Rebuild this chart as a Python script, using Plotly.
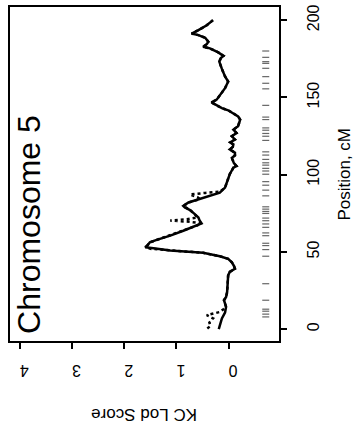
import plotly.graph_objects as go

# Solid curve (position cM, KC LOD score)
solid_pos = [0, 3, 6.9, 10.7, 14.4, 18.7, 20.8, 24.0, 30, 34.8, 37, 39.1, 41, 43.3, 45.5,
             47.2, 49.4, 50.9, 52.4, 53.0, 54.5, 56.2, 57.8, 60.5, 63.7, 67.0, 68.5, 70.5,
             72.3, 74.5, 77.1, 78.8, 79.8, 82.0, 84.2, 86.3, 88.4, 91.6, 94.9, 100.3, 104.5,
             105.6, 107.5, 108.8, 110.9, 112.5, 114.2, 116.4, 118, 119.6, 121, 122.8, 124.9,
             127.0, 129.2, 131.4, 135.7, 137.8, 139.9, 141.7, 143.1, 145.3, 146.8, 148.6,
             152.8, 156.0, 160.3, 163.6, 168.5, 173.2, 175.5, 176.9, 179.2, 181.8, 182.9,
             184.5, 186.1, 188.7, 190.4, 191.4, 193.6, 196.8, 200.1]
solid_lod = [0.19, 0.16, 0.13, 0.07, 0.05, 0.09, 0.05, 0.03, 0.02, 0.01, -0.02, -0.12, -0.10,
             -0.06, 0.01, 0.17, 0.49, 1.12, 1.44, 1.60, 1.55, 1.51, 1.38, 1.12, 0.87, 0.61,
             0.52, 0.56, 0.58, 0.65, 0.74, 0.84, 0.87, 0.77, 0.55, 0.36, 0.17, 0.07, 0.04,
             -0.02, -0.09, -0.15, -0.10, -0.09, -0.06, -0.12, -0.12, -0.02, -0.08, -0.09,
             -0.03, -0.12, -0.06, -0.15, -0.09, -0.18, -0.22, -0.18, -0.09, 0.01, 0.13, 0.26,
             0.33, 0.23, 0.13, 0.07, 0.01, 0.07, 0.13, 0.18, 0.15, 0.10, 0.20, 0.36, 0.49,
             0.42, 0.39, 0.45, 0.58, 0.71, 0.58, 0.42, 0.30]

# Dotted curve
dot_pos = [0.4, 2, 4.3, 7, 9.0, 10.1, 11.1, 12.9, 14.4, 18.7, 20.8, 24.0, 30, 34.8, 37, 39.1,
           41, 43.3, 45.5, 47.2, 49.4, 50.9, 52.0, 53.0, 54.5, 56.2, 57.8, 60.5, 63.7, 67.0,
           68.5, 69.5, 70.3, 71.2, 72.3, 74.5, 77.1, 78.8, 79.8, 82.0, 84.2, 85.5, 87.2, 88.2,
           89.0, 91.6, 94.9, 100.3, 104.5, 105.6, 107.5, 108.8, 110.9, 112.5, 114.2, 116.4,
           118, 119.6, 121, 122.8, 124.9, 127.0, 129.2, 131.4, 135.7, 137.8, 139.9, 141.7,
           143.1, 145.3, 146.8, 148.6, 152.8, 156.0, 160.3, 163.6, 168.5, 173.2, 175.5, 176.9,
           179.2, 181.8, 182.9, 184.5, 186.1, 188.7, 190.4, 191.4, 193.6, 196.8, 200.1]
dot_lod = [0.41, 0.35, 0.37, 0.30, 0.42, 0.29, 0.17, 0.10, 0.05, 0.09, 0.05, 0.03, 0.02, 0.01,
           -0.02, -0.12, -0.10, -0.06, 0.01, 0.17, 0.49, 1.12, 1.50, 1.57, 1.55, 1.51, 1.38,
           1.12, 0.87, 0.61, 0.52, 0.75, 1.12, 0.80, 0.60, 0.65, 0.74, 0.84, 0.87, 0.77, 0.55,
           0.60, 0.74, 0.45, 0.17, 0.07, 0.04, -0.02, -0.09, -0.15, -0.10, -0.09, -0.06, -0.12,
           -0.12, -0.02, -0.08, -0.09, -0.03, -0.12, -0.06, -0.15, -0.09, -0.18, -0.22, -0.18,
           -0.09, 0.01, 0.13, 0.26, 0.33, 0.23, 0.13, 0.07, 0.01, 0.07, 0.13, 0.18, 0.15, 0.10,
           0.20, 0.36, 0.49, 0.42, 0.39, 0.45, 0.58, 0.71, 0.58, 0.42, 0.30]

# Marker positions (rug), cM
marker_pos = [7.9, 9.7, 11.6, 12.9, 18.7, 29.4, 47.2, 51.5, 54.1, 55.6, 60.5, 62.3, 65.9, 68.1,
              70.2, 71.9, 74.9, 76.2, 77.7, 79.2, 86.3, 90.0, 93.2, 95.5, 100.3, 102.4, 104.1,
              106.2, 107.7, 109.9, 112.7, 114.8, 122.2, 124.9, 126.7, 128.8, 130.3, 135.7,
              137.3, 144.9, 155.6, 159.2, 163.5, 168.9, 172.1, 173.2, 176.0, 180.1]
rug_lod = -0.71

lod_ticks = [0, 1, 2, 3, 4]
pos_ticks = [0, 50, 100, 150, 200]

FONT = "Liberation Sans, Arial, sans-serif"

fig = go.Figure()
fig.add_trace(go.Scatter(
    x=[rug_lod] * len(marker_pos), y=marker_pos, mode="markers",
    marker=dict(symbol="line-ew", size=5, line=dict(width=1.2, color="#666666")),
    hoverinfo="skip", showlegend=False))
fig.add_trace(go.Scatter(x=dot_lod, y=dot_pos, mode="lines",
                         line=dict(color="black", width=2.5, dash="dot"), showlegend=False))
fig.add_trace(go.Scatter(x=solid_lod, y=solid_pos, mode="lines",
                         line=dict(color="black", width=2.5), showlegend=False))

fig.update_layout(
    width=353, height=430,
    margin=dict(l=10, r=74, t=5, b=89),
    paper_bgcolor="white", plot_bgcolor="white",
    font=dict(family=FONT, color="black", size=16),
    xaxis=dict(range=[4.19, -0.964], tickvals=lod_ticks, ticktext=[str(v) for v in lod_ticks],
               tickangle=180, ticks="outside", ticklen=6, tickwidth=1.5, tickcolor="black",
               ticklabelstandoff=13,
               showline=True, linecolor="black", linewidth=1.5, mirror=True,
               showgrid=False, zeroline=False, tickfont=dict(size=16)),
    yaxis=dict(range=[-7.7, 208.6], side="right", tickvals=pos_ticks,
               ticktext=[str(v) for v in pos_ticks], tickangle=-90,
               ticks="outside", ticklen=6, tickwidth=1.5, tickcolor="black",
               ticklabelstandoff=13,
               showline=True, linecolor="black", linewidth=1.5, mirror=True,
               showgrid=False, zeroline=False, tickfont=dict(size=16)),
    annotations=[
        dict(text="KC Lod Score", xref="paper", yref="paper", x=0.5, y=-0.22,
             textangle=180, showarrow=False, font=dict(size=17),
             xanchor="center", yanchor="middle"),
        dict(text="Position, cM", xref="paper", yref="paper", x=1.24, y=0.5,
             textangle=-90, showarrow=False, font=dict(size=17),
             xanchor="center", yanchor="middle"),
        dict(text="Chromosome 5", xref="paper", yref="paper", x=0.07, y=0.35,
             textangle=-90, showarrow=False, font=dict(size=32),
             xanchor="center", yanchor="middle"),
    ],
)

fig.write_html("out.html")
